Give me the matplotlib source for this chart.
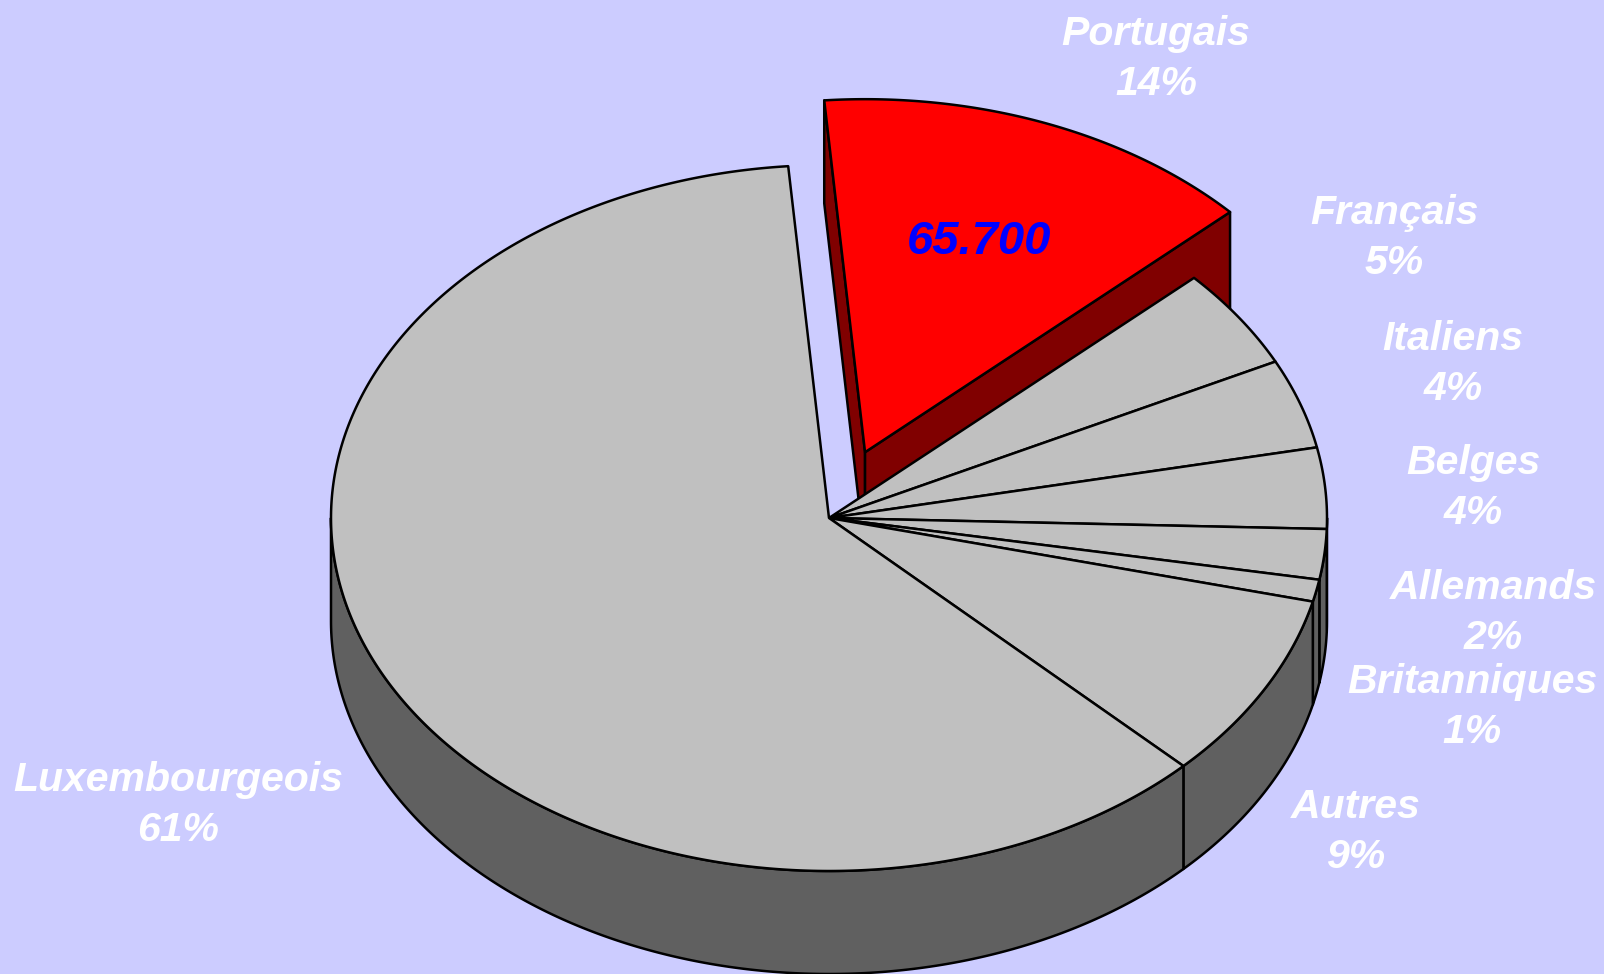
import numpy as np
import matplotlib
matplotlib.use('Agg')
import matplotlib.pyplot as plt
from matplotlib.patches import Polygon

# population by nationality
categories = ['Portugais', 'Français', 'Italiens', 'Belges', 'Allemands',
              'Britanniques', 'Autres', 'Luxembourgeois']
values = [65700, 21000, 18700, 16900, 10500, 4600, 39200, 279700]
exploded = ['Portugais']
value_label = 'Portugais'

# layout (pixels)
W, H = 1604, 974
CX, CY = 829, 518
RX, RY = 498, 353
DEPTH = 103
START = 94.7
EXPLODE = 0.2

label_xy = {
    'Portugais': (1156, 45),
    'Français': (1394, 224),
    'Italiens': (1453, 350),
    'Belges': (1473, 474),
    'Allemands': (1493, 599),
    'Britanniques': (1472, 693),
    'Autres': (1356, 818),
    'Luxembourgeois': (178, 791),
}
LINE_GAP = 50

bg = '#CCCCFF'
top_col = {'Portugais': '#FF0000'}
side_col = {'Portugais': '#800000'}
gray_top = '#C0C0C0'
gray_side = '#606060'
lw = 1.8

fig = plt.figure(figsize=(W / 100, H / 100), dpi=100, facecolor=bg)
ax = fig.add_axes([0, 0, 1, 1])
ax.set_xlim(0, W)
ax.set_ylim(H, 0)
ax.axis('off')

total = sum(values)


def rim(t0, t1, ox, oy, dz=0):
    t = np.radians(np.linspace(t0, t1, max(int(abs(t1 - t0) * 2), 2)))
    return np.column_stack([CX + ox + RX * np.cos(t), CY + oy - RY * np.sin(t) + dz])


def poly(pts, fc):
    ax.add_patch(Polygon(pts, closed=True, facecolor=fc, edgecolor='black',
                         linewidth=lw, joinstyle='round'))


def draw_slice(name, a0, a1, ox, oy, only_sides=False, only_top=False):
    tc = top_col.get(name, gray_top)
    sc = side_col.get(name, gray_side)
    vx, vy = CX + ox, CY + oy
    if not only_top:
        if name in exploded:
            # radial faces
            for a, vis in ((a0, np.cos(np.radians(a0)) < 0), (a1, np.cos(np.radians(a1)) > 0)):
                if vis:
                    px = vx + RX * np.cos(np.radians(a))
                    py = vy - RY * np.sin(np.radians(a))
                    poly([(vx, vy), (px, py), (px, py + DEPTH), (vx, vy + DEPTH)], sc)
        lo, hi = max(a1, -180), min(a0, 0)
        if hi > lo:
            up = rim(hi, lo, ox, oy)
            down = rim(lo, hi, ox, oy, DEPTH)
            poly(np.vstack([up, down]), sc)
    if not only_sides:
        pts = np.vstack([[[vx, vy]], rim(a0, a1, ox, oy)])
        poly(pts, tc)


# angles, clockwise from START
bounds = []
acc = 0
for v in values:
    a0 = START - acc / total * 360
    acc += v
    a1 = START - acc / total * 360
    bounds.append((a0, a1))

offsets = []
for name, (a0, a1) in zip(categories, bounds):
    if name in exploded:
        mid = np.radians((a0 + a1) / 2)
        offsets.append((EXPLODE * RX * np.cos(mid), -EXPLODE * RY * np.sin(mid)))
    else:
        offsets.append((0, 0))

# exploded slices first (they sit behind)
for name, (a0, a1), (ox, oy) in zip(categories, bounds, offsets):
    if name in exploded:
        draw_slice(name, a0, a1, ox, oy)

for name, (a0, a1), (ox, oy) in zip(categories, bounds, offsets):
    if name not in exploded:
        draw_slice(name, a0, a1, ox, oy, only_sides=True)
for name, (a0, a1), (ox, oy) in zip(categories, bounds, offsets):
    if name not in exploded:
        draw_slice(name, a0, a1, ox, oy, only_top=True)

font = dict(family='Liberation Sans', weight='bold', style='italic')
for name, v in zip(categories, values):
    x, y = label_xy[name]
    pct = f"{round(v / total * 100)}%"
    ax.text(x, y, name, ha='center', va='baseline', color='white', fontsize=29.5, **font)
    ax.text(x, y + LINE_GAP, pct, ha='center', va='baseline', color='white', fontsize=29.5, **font)

# value label inside the highlighted slice
i = categories.index(value_label)
a0, a1 = bounds[i]
ox, oy = offsets[i]
mid = np.radians((a0 + a1) / 2)
lx = CX + ox + 0.63 * RX * np.cos(mid)
ly = CY + oy - 0.65 * RY * np.sin(mid)
ax.text(lx, ly + 16, f"{values[i]:,}".replace(',', '.'), ha='center', va='baseline',
        color='#0000FF', fontsize=34, **font)

fig.savefig('out.png', dpi=100, facecolor=bg)
